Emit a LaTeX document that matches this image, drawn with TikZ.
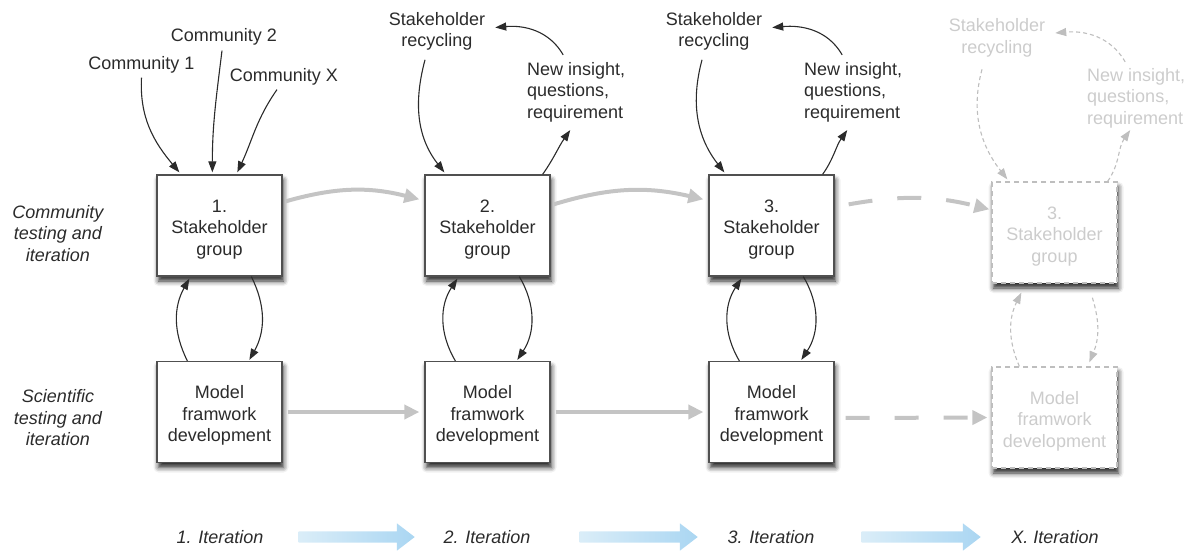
\documentclass[tikz,border=0pt]{standalone}
\usepackage{fontspec}
\setmainfont{Liberation Sans}
\usetikzlibrary{arrows.meta,shapes.arrows,shadows.blur}
\definecolor{ink}{HTML}{2B2B2B}
\definecolor{frame}{HTML}{505050}
\definecolor{flow}{HTML}{C4C4C4}
\definecolor{ghost}{HTML}{BEBEBE}
\definecolor{ghosttext}{HTML}{CCCCCC}
\definecolor{iterL}{HTML}{DAEDF8}
\definecolor{iterR}{HTML}{AAD6F2}
% extra room above the first line of a box label
\newcommand{\boxstrut}{\rule{0pt}{20pt}}

\begin{document}
\begin{tikzpicture}[x=1pt,y=-1pt,
  font=\fontsize{18}{21.5}\selectfont, text=ink,
  box/.style={draw=frame, line width=1.3pt, fill=white,
    minimum width=125pt, minimum height=101pt, inner sep=0pt, align=center,
    blur shadow={shadow xshift=1.5pt, shadow yshift=-5pt,
      shadow blur radius=5pt, shadow opacity=85}},
  ghostbox/.style={box, draw=ghost, dash pattern=on 5pt off 4pt, text=ghosttext},
  lbl/.style={align=center, inner sep=0pt},
  side/.style={lbl, font=\fontsize{18}{21.5}\selectfont\itshape},
  feed/.style={draw=ink, line width=1.1pt, -{Triangle[length=11pt,width=8pt]}},
  ghostfeed/.style={draw=ghost, line width=1.1pt, dash pattern=on 4pt off 3pt,
    -{Triangle[length=11pt,width=8pt]}},
  flowarrow/.style={draw=flow, line width=4pt, -{Triangle[length=15pt,width=14pt]}},
  ghostflow/.style={flowarrow, dash pattern=on 24pt off 25pt},
  iterarrow/.style={single arrow, draw=none, left color=iterL, right color=iterR,
    minimum width=27pt, inner sep=5.5pt, single arrow head extend=8pt,
    single arrow tip angle=75, shape border rotate=0}
]
\useasboundingbox (0,0) rectangle (1192,550);

% stakeholder groups and model development
\node[box] (s1) at (219.5,225.5) {\boxstrut 1.\\Stakeholder\\group};
\node[box] (s2) at (487.5,225.5) {\boxstrut 2.\\Stakeholder\\group};
\node[box] (s3) at (771.5,225.5) {\boxstrut 3.\\Stakeholder\\group};
\node[ghostbox] (s4) at (1054.5,232.5) {\boxstrut 3.\\Stakeholder\\group};

\node[box] (m1) at (219.5,412) {\boxstrut Model\\framwork\\development};
\node[box] (m2) at (487.5,412) {\boxstrut Model\\framwork\\development};
\node[box] (m3) at (771.5,412) {\boxstrut Model\\framwork\\development};
\node[ghostbox] (m4) at (1054.5,417.5) {\boxstrut Model\\framwork\\development};

% row labels
\node[side] (lc) at (58,233.5) {Community\\testing and\\iteration};
\node[side] (ls) at (58,418) {Scientific\\testing and\\iteration};

% communities feeding the first group
\node[lbl] (c1) at (141.5,65) {Community 1};
\node[lbl] (c2) at (224,37) {Community 2};
\node[lbl] (cx) at (284,77) {Community X};
\draw[feed] ([yshift=-4pt]c1.south) to[out=-93,in=130] ([xshift=23pt,yshift=2pt]s1.north west);
\draw[feed] ([xshift=-2pt,yshift=-5pt]c2.south) to[out=-97,in=90] ([xshift=56pt,yshift=2pt]s1.north west);
\draw[feed] ([xshift=-7pt,yshift=-4pt]cx.south) to[out=-125,in=65] ([xshift=81pt,yshift=2pt]s1.north west);

% recycling loops
\node[lbl] (r2) at (437,31.5) {Stakeholder\\recycling};
\node[lbl, align=left, anchor=west] (n2) at (527,92) {New insight,\\questions,\\requirement};
\node[lbl] (r3) at (714,31.5) {Stakeholder\\recycling};
\node[lbl, align=left, anchor=west] (n3) at (804,92) {New insight,\\questions,\\requirement};
\node[lbl, text=ghosttext] (r4) at (997,38) {Stakeholder\\recycling};
\node[lbl, text=ghosttext, align=left, anchor=west] (n4) at (1087,98) {New insight,\\questions,\\requirement};

\draw[feed] ([xshift=-12pt,yshift=-9pt]r2.south) to[out=-105,in=128] ([xshift=20pt,yshift=2pt]s2.north west);
\draw[feed] ([xshift=-8pt]s2.north east) to[out=55,in=-125] ([xshift=-6pt,yshift=-8pt]n2.south);
\draw[feed] ([xshift=-13pt,yshift=7pt]n2.north) to[out=120,in=5] ([xshift=10pt,yshift=4pt]r2.east);

\draw[feed] ([xshift=-12pt,yshift=-9pt]r3.south) to[out=-105,in=128] ([xshift=16pt,yshift=2pt]s3.north west);
\draw[feed] ([xshift=-12pt]s3.north east) to[out=55,in=-125] ([xshift=-6pt,yshift=-8pt]n3.south);
\draw[feed] ([xshift=-11pt,yshift=7pt]n3.north) to[out=120,in=5] ([xshift=10pt,yshift=4pt]r3.east);

\draw[ghostfeed] ([xshift=-15pt,yshift=-12pt]r4.south) to[out=-105,in=128] ([xshift=16pt,yshift=2pt]s4.north west);
\draw[ghostfeed] ([xshift=-10pt]s4.north east) to[out=55,in=-125] ([xshift=-6pt,yshift=-2pt]n4.south);
\draw[ghostfeed] ([xshift=-11pt,yshift=6pt]n4.north) to[out=120,in=5] ([xshift=10pt,yshift=5pt]r4.east);

% exchange between stakeholders and model
\draw[feed] ([xshift=31pt]m1.north west) to[bend left=28] ([xshift=33pt,yshift=-2pt]s1.south west);
\draw[feed] ([xshift=95pt]s1.south west) to[bend left=28] ([xshift=93pt,yshift=1pt]m1.north west);
\draw[feed] ([xshift=31pt]m2.north west) to[bend left=32] ([xshift=33pt,yshift=-2pt]s2.south west);
\draw[feed] ([xshift=95pt]s2.south west) to[bend left=32] ([xshift=93pt,yshift=1pt]m2.north west);
\draw[feed] ([xshift=31pt]m3.north west) to[bend left=32] ([xshift=33pt,yshift=-2pt]s3.south west);
\draw[feed] ([xshift=95pt]s3.south west) to[bend left=32] ([xshift=93pt,yshift=1pt]m3.north west);
\draw[ghostfeed] ([xshift=28pt]m4.north west) to[bend left=25] ([xshift=30pt,yshift=-9pt]s4.south west);
\draw[ghostfeed] ([xshift=101pt,yshift=-14pt]s4.south west) to[bend left=20] ([xshift=98pt,yshift=4pt]m4.north west);

% progression between iterations
\draw[flowarrow] ([xshift=3pt,yshift=-27pt]s1.north east) to[bend left=15] ([xshift=-5pt,yshift=-25pt]s2.north west);
\draw[flowarrow] ([xshift=3pt,yshift=-30pt]s2.north east) to[bend left=15] ([xshift=-5pt,yshift=-25pt]s3.north west);
\draw[ghostflow] ([xshift=14pt,yshift=-30pt]s3.north east) to[bend left=12] ([xshift=-2pt,yshift=-28pt]s4.north west);

\draw[flowarrow, shorten <=5pt, shorten >=5pt] (m1.east) -- (m2.west);
\draw[flowarrow, shorten <=5pt, shorten >=5pt] (m2.east) -- (m3.west);
\draw[ghostflow, shorten <=11pt, shorten >=4pt] ([yshift=-6pt]m3.east) -- (m4.west);

% iteration timeline
\node[side] (i1) at (220,537) {1. Iteration};
\node[side] (i2) at (487,537) {2. Iteration};
\node[side] (i3) at (771,537) {3. Iteration};
\node[side] (ix) at (1055,537) {X. Iteration};
\node[iterarrow, minimum height=116pt] (a12) at (353,537) {};
\node[iterarrow, minimum height=118pt] (a23) at (635,537) {};
\node[iterarrow, minimum height=119pt] (a3x) at (917.5,537) {};
\end{tikzpicture}
\end{document}
